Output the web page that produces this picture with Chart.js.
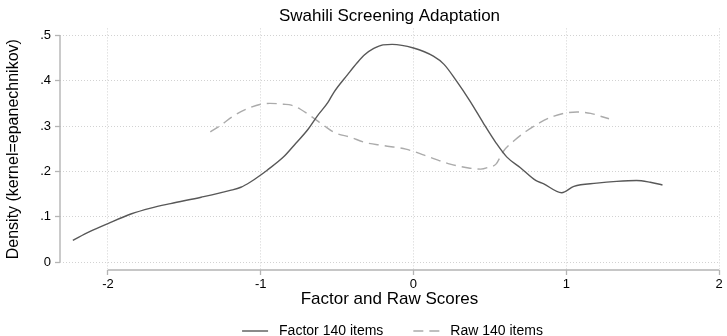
<!DOCTYPE html>
<html>
<head>
<meta charset="utf-8">
<script src="https://cdn.jsdelivr.net/npm/chart.js@4.4.1/dist/chart.umd.min.js"></script>
<style>
html,body{margin:0;padding:0;background:#fff}
canvas{display:block}
</style>
</head>
<body>
<canvas id="density" width="727" height="336"></canvas>
<script>
// kernel density estimates
const factorX = [-2.23,-2.12,-2.00,-1.85,-1.72,-1.59,-1.39,-1.20,-1.13,-1.07,-1.00,-0.96,-0.85,-0.77,-0.69,-0.63,-0.56,-0.52,-0.43,-0.37,-0.32,-0.26,-0.20,-0.14,0.00,0.13,0.20,0.28,0.37,0.46,0.54,0.61,0.70,0.80,0.85,0.97,1.05,1.20,1.33,1.46,1.55,1.63];
const factorY = [.048,.067,.085,.106,.119,.129,.143,.158,.165,.176,.192,.202,.232,.262,.293,.322,.352,.375,.414,.439,.457,.471,.479,.480,.472,.454,.436,.400,.355,.305,.263,.232,.208,.180,.173,.153,.167,.174,.178,.180,.176,.170];
const rawX = [-1.33,-1.26,-1.18,-1.09,-1.00,-0.94,-0.85,-0.80,-0.74,-0.66,-0.59,-0.52,-0.41,-0.32,-0.20,-0.05,0.11,0.24,0.37,0.44,0.49,0.54,0.59,0.66,0.74,0.83,0.92,1.00,1.07,1.16,1.22,1.28];
const rawY = [.287,.302,.322,.338,.348,.350,.348,.346,.337,.319,.302,.286,.275,.264,.257,.249,.231,.216,.207,.205,.209,.216,.245,.268,.289,.308,.322,.329,.331,.328,.322,.316];
const xTicks = [-2,-1,0,1,2];
const yTicks = [0,.1,.2,.3,.4,.5];
const seriesNames = ['Factor 140 items','Raw 140 items'];

function pts(xs, ys){ return xs.map((x,i)=>({x:x, y:ys[i]})) }

const FONT = "'Liberation Sans', Arial, Helvetica, sans-serif";
Chart.defaults.font.family = FONT;
Chart.defaults.color = '#000';

// stata draws the axis lines only over the tick range
const axisLines = {
  id:'axisLines',
  afterDatasetsDraw(chart){
    const ctx=chart.ctx, a=chart.chartArea, xs=chart.scales.x, ys=chart.scales.y;
    ctx.save();
    ctx.strokeStyle='#b4b4b4';
    ctx.lineWidth=1.4;
    ctx.beginPath();
    ctx.moveTo(a.left, ys.getPixelForValue(yTicks[0]));
    ctx.lineTo(a.left, ys.getPixelForValue(yTicks[yTicks.length-1]));
    ctx.moveTo(xs.getPixelForValue(xTicks[0]), a.bottom);
    ctx.lineTo(xs.getPixelForValue(xTicks[xTicks.length-1]), a.bottom);
    ctx.stroke();
    ctx.restore();
  }
};

// one row legend under the axis title
const legendRow = {
  id:'legendRow',
  afterDraw(chart){
    const ctx=chart.ctx, a=chart.chartArea;
    ctx.save();
    ctx.font='14px '+FONT;
    const sample=26, gap=11, between=30;
    const items=chart.data.datasets.map(ds=>({ds:ds, w:sample+gap+ctx.measureText(ds.label).width}));
    const total=items.reduce((s,it)=>s+it.w,0)+between*(items.length-1);
    let x=(a.left+a.right)/2-total/2+3;
    const y=331;
    items.forEach(it=>{
      ctx.strokeStyle=it.ds.borderColor;
      ctx.lineWidth=it.ds.borderWidth;
      ctx.setLineDash(it.ds.borderDash||[]);
      ctx.beginPath();
      ctx.moveTo(x,y);
      ctx.lineTo(x+sample,y);
      ctx.stroke();
      ctx.setLineDash([]);
      ctx.fillStyle='#000';
      ctx.textBaseline='middle';
      ctx.textAlign='left';
      ctx.fillText(it.ds.label, x+sample+gap, y);
      x+=it.w+between;
    });
    ctx.restore();
  }
};

new Chart(document.getElementById('density'), {
  type:'scatter',
  data:{
    datasets:[
      {
        label:seriesNames[0],
        data:pts(factorX,factorY),
        showLine:true,
        borderColor:'#585858',
        borderWidth:1.4,
        pointRadius:0,
        cubicInterpolationMode:'monotone'
      },
      {
        label:seriesNames[1],
        data:pts(rawX,rawY),
        showLine:true,
        borderColor:'#ababab',
        borderWidth:1.4,
        borderDash:[10,6],
        pointRadius:0,
        cubicInterpolationMode:'monotone'
      }
    ]
  },
  options:{
    responsive:false,
    animation:false,
    events:[],
    layout:{padding:{top:0,right:8,bottom:24,left:0}},
    plugins:{
      legend:{display:false},
      tooltip:{enabled:false},
      title:{
        display:true,
        text:'Swahili Screening Adaptation',
        fullSize:false,
        color:'#000',
        font:{size:17,weight:'normal'},
        padding:{top:6,bottom:2}
      }
    },
    scales:{
      x:{
        type:'linear',
        min:-2.314,
        max:2,
        afterBuildTicks(s){ s.ticks=xTicks.map(v=>({value:v})) },
        afterFit(s){ s.height=42 },
        ticks:{
          font:{size:13},
          color:'#000',
          padding:2,
          maxRotation:0,
          callback:v=>String(v)
        },
        grid:{color:'#d2d2d2',lineWidth:1,tickColor:'#b4b4b4',tickWidth:1.3,tickLength:5},
        border:{display:false,dash:[1,2]},
        title:{
          display:true,
          text:'Factor and Raw Scores',
          color:'#000',
          font:{size:17},
          padding:{top:2,bottom:2}
        }
      },
      y:{
        type:'linear',
        min:-0.0175,
        max:0.5153,
        afterBuildTicks(s){ s.ticks=yTicks.map(v=>({value:v})) },
        afterFit(s){ s.width=60 },
        ticks:{
          font:{size:13},
          color:'#000',
          padding:4,
          callback:v=>v===0?'0':v.toFixed(1).replace(/^0/,'')
        },
        grid:{color:'#d2d2d2',lineWidth:1,tickColor:'#b4b4b4',tickWidth:1.3,tickLength:5},
        border:{display:false,dash:[1,2]},
        title:{
          display:true,
          text:'Density (kernel=epanechnikov)',
          color:'#000',
          font:{size:16},
          padding:{top:4,bottom:2}
        }
      }
    }
  },
  plugins:[axisLines,legendRow]
});
</script>
</body>
</html>
